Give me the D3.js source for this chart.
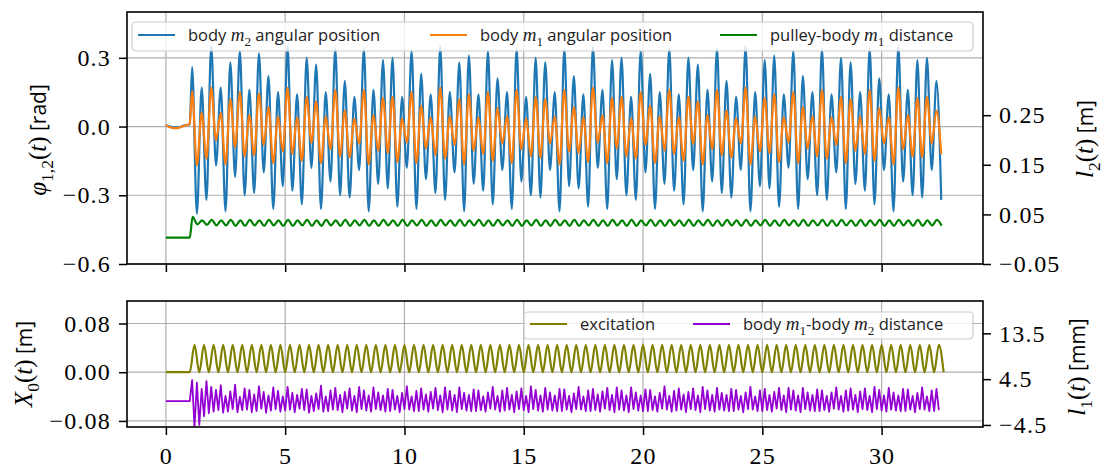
<!DOCTYPE html>
<html>
<head>
<meta charset="utf-8">
<script src="https://cdn.jsdelivr.net/npm/d3@7"></script>
<style>
  body { margin: 0; background: #fff; }
  .tick text { font-family: "Liberation Serif", serif; font-size: 24px; letter-spacing: 1.2px; fill: #000; }
  .tick line { stroke: #000; stroke-width: 1.5; }
  .grid line { stroke: #b0b0b0; stroke-width: 1.2; }
</style>
</head>
<body>
<svg id="chart" width="1106" height="471"></svg>
<script>
// ---- data ----
// rest phase before the excitation starts
const REST_T = [0, 0.25, 0.5, 0.75, 1.0];
const phi2Rest = [0.005, -0.002, -0.004, 0.004, 0.01];
const phi1Rest = [0.006, -0.006, -0.007, 0.003, 0.012];
const l2Rest = [0.003, 0.003, 0.003, 0.003, 0.003];
const x0Rest = [0, 0, 0, 0, 0];
const l1Rest = [0.2, 0.2, 0.2, 0.2, 0.2];

// oscillation phase, sampled every half period (extrema)
const HALF = 0.2;          // s
const PHI_START = 1.1;     // first peak of the angles
const L2_START = 1.12;
const X0_START = 1.0;
const L1_START = 1.0;      // l1 sampled every quarter period

const phi2Peaks = [
  0.26, 0.17, 0.35, 0.17, 0.28, 0.33, 0.16, 0.32, 0.22, 0.15,
  0.35, 0.14, 0.30, 0.27, 0.15, 0.34, 0.20, 0.13, 0.34, 0.16,
  0.29, 0.30, 0.13, 0.33, 0.23, 0.14, 0.35, 0.15, 0.28, 0.31,
  0.14, 0.33, 0.21, 0.15, 0.34, 0.13, 0.30, 0.28, 0.15, 0.34,
  0.22, 0.14, 0.35, 0.16, 0.29, 0.30, 0.13, 0.33, 0.23, 0.15,
  0.34, 0.14, 0.30, 0.27, 0.16, 0.34, 0.20, 0.13, 0.35, 0.15,
  0.29, 0.31, 0.14, 0.33, 0.22, 0.15, 0.34, 0.14, 0.30, 0.28,
  0.15, 0.34, 0.21, 0.14, 0.35, 0.16, 0.29, 0.30, 0.20];
const phi2Troughs = [
  -0.38, -0.32, -0.17, -0.37, -0.22, -0.30, -0.29, -0.20, -0.36, -0.26,
  -0.28, -0.34, -0.18, -0.36, -0.24, -0.30, -0.31, -0.19, -0.37, -0.25,
  -0.27, -0.35, -0.18, -0.36, -0.23, -0.29, -0.32, -0.20, -0.37, -0.25,
  -0.28, -0.34, -0.19, -0.36, -0.24, -0.30, -0.31, -0.19, -0.37, -0.26,
  -0.27, -0.35, -0.18, -0.36, -0.23, -0.30, -0.32, -0.20, -0.36, -0.25,
  -0.28, -0.34, -0.19, -0.37, -0.24, -0.29, -0.31, -0.19, -0.37, -0.26,
  -0.27, -0.35, -0.18, -0.36, -0.23, -0.30, -0.32, -0.20, -0.36, -0.25,
  -0.28, -0.34, -0.19, -0.37, -0.24, -0.30, -0.31, -0.19, -0.32];

const phi1Peaks = [
  0.155, 0.06, 0.17, 0.06, 0.12, 0.15, 0.05, 0.145, 0.085, 0.045,
  0.17, 0.04, 0.13, 0.11, 0.045, 0.16, 0.07, 0.035, 0.16, 0.05,
  0.125, 0.13, 0.035, 0.15, 0.09, 0.04, 0.17, 0.045, 0.12, 0.14,
  0.04, 0.15, 0.08, 0.045, 0.16, 0.035, 0.13, 0.12, 0.045, 0.16,
  0.085, 0.04, 0.17, 0.05, 0.125, 0.13, 0.035, 0.15, 0.09, 0.045,
  0.16, 0.04, 0.13, 0.11, 0.05, 0.16, 0.07, 0.035, 0.17, 0.045,
  0.125, 0.14, 0.04, 0.15, 0.085, 0.045, 0.16, 0.04, 0.13, 0.12,
  0.045, 0.16, 0.08, 0.04, 0.17, 0.05, 0.125, 0.13, 0.07];
const phi1Troughs = [
  -0.17, -0.14, -0.06, -0.165, -0.09, -0.13, -0.125, -0.08, -0.16, -0.11,
  -0.12, -0.15, -0.07, -0.16, -0.10, -0.13, -0.135, -0.075, -0.165, -0.105,
  -0.115, -0.155, -0.07, -0.16, -0.095, -0.125, -0.14, -0.08, -0.165, -0.105,
  -0.12, -0.15, -0.075, -0.16, -0.10, -0.13, -0.135, -0.075, -0.165, -0.11,
  -0.115, -0.155, -0.07, -0.16, -0.095, -0.13, -0.14, -0.08, -0.16, -0.105,
  -0.12, -0.15, -0.075, -0.165, -0.10, -0.125, -0.135, -0.075, -0.165, -0.11,
  -0.115, -0.155, -0.07, -0.16, -0.095, -0.13, -0.14, -0.08, -0.16, -0.105,
  -0.12, -0.15, -0.075, -0.165, -0.10, -0.13, -0.135, -0.075, -0.12];

const l2Values = [
  0.045, 0.030, 0.038, 0.029, 0.039, 0.028, 0.038, 0.028, 0.039, 0.027,
  0.038, 0.027, 0.039, 0.028, 0.038, 0.027, 0.039, 0.028, 0.038, 0.027,
  0.039, 0.027, 0.038, 0.028, 0.039, 0.027, 0.038, 0.027, 0.039, 0.028,
  0.038, 0.027, 0.039, 0.027, 0.038, 0.028, 0.039, 0.027, 0.038, 0.027,
  0.039, 0.028, 0.038, 0.027, 0.039, 0.027, 0.038, 0.028, 0.039, 0.027,
  0.038, 0.027, 0.039, 0.028, 0.038, 0.027, 0.039, 0.027, 0.038, 0.028,
  0.039, 0.027, 0.038, 0.027, 0.039, 0.028, 0.038, 0.027, 0.039, 0.027,
  0.038, 0.028, 0.039, 0.027, 0.038, 0.027, 0.039, 0.028, 0.038, 0.027,
  0.039, 0.027, 0.038, 0.028, 0.039, 0.027, 0.038, 0.027, 0.039, 0.028,
  0.038, 0.027, 0.039, 0.027, 0.038, 0.028, 0.039, 0.027, 0.038, 0.027,
  0.039, 0.028, 0.038, 0.027, 0.039, 0.027, 0.038, 0.028, 0.039, 0.027,
  0.038, 0.027, 0.039, 0.028, 0.038, 0.027, 0.039, 0.027, 0.038, 0.028,
  0.039, 0.027, 0.038, 0.027, 0.039, 0.028, 0.038, 0.027, 0.039, 0.027,
  0.038, 0.028, 0.039, 0.027, 0.038, 0.027, 0.039, 0.028, 0.038, 0.027,
  0.039, 0.027, 0.038, 0.028, 0.039, 0.027, 0.038, 0.027, 0.039, 0.028,
  0.038, 0.027, 0.039, 0.027, 0.038, 0.028, 0.039, 0.027];

const x0Values = [
  0, 0.045, 0, 0.045, 0, 0.045, 0, 0.045, 0, 0.045, 0, 0.045, 0, 0.045, 0, 0.045,
  0, 0.045, 0, 0.045, 0, 0.045, 0, 0.045, 0, 0.045, 0, 0.045, 0, 0.045, 0, 0.045,
  0, 0.045, 0, 0.045, 0, 0.045, 0, 0.045, 0, 0.045, 0, 0.045, 0, 0.045, 0, 0.045,
  0, 0.045, 0, 0.045, 0, 0.045, 0, 0.045, 0, 0.045, 0, 0.045, 0, 0.045, 0, 0.045,
  0, 0.045, 0, 0.045, 0, 0.045, 0, 0.045, 0, 0.045, 0, 0.045, 0, 0.045, 0, 0.045,
  0, 0.045, 0, 0.045, 0, 0.045, 0, 0.045, 0, 0.045, 0, 0.045, 0, 0.045, 0, 0.045,
  0, 0.045, 0, 0.045, 0, 0.045, 0, 0.045, 0, 0.045, 0, 0.045, 0, 0.045, 0, 0.045,
  0, 0.045, 0, 0.045, 0, 0.045, 0, 0.045, 0, 0.045, 0, 0.045, 0, 0.045, 0, 0.045,
  0, 0.045, 0, 0.045, 0, 0.045, 0, 0.045, 0, 0.045, 0, 0.045, 0, 0.045, 0, 0.045,
  0, 0.045, 0, 0.045, 0, 0.045, 0, 0.045, 0, 0.045, 0, 0.045, 0, 0.045, 0];

const l1Values = [
  0.2, 4.3, -4.9, 3.8,  -4.5, 2.6, -2.8, 4.1,  -2.2, 3.0, -1.9, 2.4,  -1.6, 3.3, -2.1, 1.2,
  -1.9, 2.1, -1.4, 3.4,  -2.0, 1.0, -1.6, 2.7,  -1.5, 2.4, -2.0, 1.5,  -1.8, 3.1, -1.3, 2.0,
  -2.1, 1.3, -1.7, 2.9,  -1.4, 2.2, -1.9, 1.1,  -1.7, 3.0, -1.5, 1.8,  -2.0, 1.4, -1.3, 2.6,
  -1.6, 2.5, -2.1, 1.2,  -1.8, 1.7, -1.4, 3.2,  -1.9, 1.1, -1.8, 2.3,  -1.5, 2.8, -1.6, 1.4,
  -2.0, 2.0, -1.3, 2.7,  -1.7, 1.2, -2.0, 3.0,  -1.4, 2.3, -1.7, 1.3,  -1.9, 2.9, -1.4, 1.9,
  -1.6, 1.3, -1.9, 2.6,  -1.8, 2.4, -1.5, 1.2,  -2.0, 1.8, -1.4, 3.1,  -1.5, 1.1, -1.8, 2.2,
  -1.8, 2.7, -1.5, 1.5,  -1.9, 2.0, -1.3, 2.8,  -1.6, 1.3, -2.0, 2.9,  -1.5, 2.2, -1.7, 1.4,
  -2.0, 2.9, -1.4, 1.8,  -1.7, 1.4, -1.8, 2.5,  -1.8, 2.3, -1.6, 1.1,  -1.9, 1.9, -1.3, 3.0,
  -1.5, 1.2, -1.9, 2.3,  -1.7, 2.8, -1.5, 1.4,  -2.0, 2.1, -1.4, 2.7,  -1.6, 1.2, -2.0, 3.1,
  -1.4, 2.4, -1.7, 1.3,  -1.9, 2.8, -1.5, 1.9,  -1.7, 1.3, -1.8, 2.6,  -1.8, 2.5, -1.5, 1.2,
  -2.0, 1.7, -1.4, 3.0,  -1.5, 1.1, -1.8, 2.3,  -1.8, 2.6, -1.6, 1.5,  -1.9, 2.1, -1.3, 2.8,
  -1.6, 1.4, -2.0, 2.9,  -1.5, 2.3, -1.7, 1.3,  -2.0, 2.9, -1.4, 1.9,  -1.7, 1.3, -1.8, 2.5,
  -1.8, 2.4, -1.6, 1.1,  -1.9, 1.8, -1.3, 3.1,  -1.5, 1.2, -1.9, 2.2,  -1.7, 2.7, -1.5, 1.5,
  -2.0, 2.0, -1.4, 2.7,  -1.6, 1.3, -2.0, 3.0,  -1.4, 2.3, -1.7, 1.4,  -1.9, 2.8, -1.5, 1.8,
  -1.7, 1.4, -1.8, 2.6,  -1.8, 2.4, -1.5, 1.2,  -2.0, 1.9, -1.4, 3.0,  -1.5, 1.1, -1.8, 2.3,
  -1.8, 2.6, -1.6, 1.4,  -1.9, 2.0, -1.3, 2.8,  -1.6, 1.3, -2.0, 2.8,  -1.5, 2.3, -1.7, 1.3,
  -2.0, 2.8, -1.4, 1.9,  -1.7, 1.4, -1.8, 2.5,  -1.8, 2.3, -1.6, 1.2,  -1.9, 1.9, -1.3, 2.9,
  -1.5, 1.2, -1.9, 2.3,  -1.7, 2.7, -1.5, 1.4,  -2.0, 2.1, -1.4, 2.7,  -1.6, 1.2, -2.0, 3.0,
  -1.4, 2.4, -1.7, 1.3,  -1.9, 2.8, -1.5, 1.9,  -1.7, 1.3, -1.8, 2.6,  -1.8, 2.5, -1.5, 1.2,
  -2.0, 1.8, -1.4, 2.9,  -1.5, 1.1, -1.8, 2.3,  -1.8, 2.6, -1.6];

// axis ticks
const T_TICKS = [0, 5, 10, 15, 20, 25, 30];
const PHI_TICKS = [-0.6, -0.3, 0.0, 0.3];
const L2_TICKS = [-0.05, 0.05, 0.15, 0.25];
const X0_TICKS = [-0.08, 0.0, 0.08];
const L1_TICKS = [-4.5, 4.5, 13.5];

// ---- layout ----
const LEFT = 127, RIGHT = 983;
const TOP = {y0: 12, y1: 264};
const BOT = {y0: 301, y1: 427};

const svg = d3.select("#chart");

const x = d3.scaleLinear().domain([-1.63, 34.25]).range([LEFT, RIGHT]);
const yPhi = d3.scaleLinear().domain([-0.6, 0.5]).range([TOP.y1, TOP.y0]);
const yL2 = d3.scaleLinear().domain([-0.05, 0.458]).range([TOP.y1, TOP.y0]);
const yX0 = d3.scaleLinear().domain([-0.09, 0.117]).range([BOT.y1, BOT.y0]);
const yL1 = d3.scaleLinear().domain([-4.9, 19.85]).range([BOT.y1, BOT.y0]);

function interleave(a, b) {
  const out = [];
  a.forEach((v, i) => { out.push(v); if (i < b.length) out.push(b[i]); });
  return out;
}
// rest samples + evenly sampled oscillation samples
function series(restV, t0, dt, vals) {
  const pts = REST_T.map((t, i) => [t, restV[i]]);
  vals.forEach((v, i) => pts.push([t0 + i * dt, v]));
  return pts;
}

const phi2 = series(phi2Rest, PHI_START, HALF, interleave(phi2Peaks, phi2Troughs));
const phi1 = series(phi1Rest, PHI_START, HALF, interleave(phi1Peaks, phi1Troughs));
const l2 = series(l2Rest, L2_START, HALF, l2Values);
const x0 = series(x0Rest, X0_START, HALF, x0Values);
const l1 = series(l1Rest, L1_START, HALF / 2, l1Values);

// clip paths
const defs = svg.append("defs");
[["clipTop", TOP], ["clipBot", BOT]].forEach(([id, p]) => {
  defs.append("clipPath").attr("id", id).append("rect")
    .attr("x", LEFT).attr("y", p.y0).attr("width", RIGHT - LEFT).attr("height", p.y1 - p.y0);
});

function panel(p, yLeft, yRight, leftTicks, rightTicks, leftFmt, rightFmt, showX) {
  // grid
  const grid = svg.append("g").attr("class", "grid");
  grid.selectAll(".gx").data(T_TICKS).enter().append("line")
    .attr("x1", d => x(d)).attr("x2", d => x(d)).attr("y1", p.y0).attr("y2", p.y1);
  grid.selectAll(".gy").data(leftTicks).enter().append("line")
    .attr("x1", LEFT).attr("x2", RIGHT).attr("y1", d => yLeft(d)).attr("y2", d => yLeft(d));

  const ax = svg.append("g").attr("transform", `translate(0,${p.y1})`)
    .call(d3.axisBottom(x).tickValues(T_TICKS).tickSize(8).tickPadding(12)
      .tickFormat(showX ? d3.format("d") : ""));
  const al = svg.append("g").attr("transform", `translate(${LEFT},0)`)
    .call(d3.axisLeft(yLeft).tickValues(leftTicks).tickSize(8).tickPadding(8).tickFormat(d3.format(leftFmt)));
  const ar = svg.append("g").attr("transform", `translate(${RIGHT},0)`)
    .call(d3.axisRight(yRight).tickValues(rightTicks).tickSize(8).tickPadding(8).tickFormat(d3.format(rightFmt)));
  [ax, al, ar].forEach(a => a.select(".domain").remove());
}

function frame(p) {
  svg.append("rect").attr("x", LEFT).attr("y", p.y0)
    .attr("width", RIGHT - LEFT).attr("height", p.y1 - p.y0)
    .attr("fill", "none").attr("stroke", "#000").attr("stroke-width", 1.6);
}

function drawLine(data, yScale, color, clip, curve, width) {
  svg.append("path").datum(data)
    .attr("clip-path", `url(#${clip})`)
    .attr("fill", "none").attr("stroke", color).attr("stroke-width", width)
    .attr("stroke-linejoin", "round")
    .attr("d", d3.line().x(d => x(d[0])).y(d => yScale(d[1])).curve(curve));
}

panel(TOP, yPhi, yL2, PHI_TICKS, L2_TICKS, ".1f", ".2f", false);
drawLine(phi2, yPhi, "#1f77b4", "clipTop", d3.curveMonotoneX, 2.2);
drawLine(phi1, yPhi, "#ff7f0e", "clipTop", d3.curveMonotoneX, 2.2);
drawLine(l2, yL2, "#008000", "clipTop", d3.curveMonotoneX, 2.2);
frame(TOP);

panel(BOT, yX0, yL1, X0_TICKS, L1_TICKS, ".2f", ".1f", true);
drawLine(x0, yX0, "#808000", "clipBot", d3.curveMonotoneX, 2.2);
drawLine(l1, yL1, "#9400d3", "clipBot", d3.curveLinear, 1.8);
frame(BOT);

// ---- rich text helpers ----
const SERIF = "Liberation Serif", SANS = "Open Sans";
function rich(textSel, parts, sansSize, serifSize) {
  let shift = 0;
  parts.forEach(p => {
    const sub = p.sub === true;
    const ts = textSel.append("tspan").text(p.s);
    const want = sub ? serifSize * 0.27 : 0;
    if (want !== shift) { ts.attr("dy", want - shift); shift = want; }
    ts.attr("font-family", p.f === "sans" ? SANS : SERIF)
      .attr("font-style", p.f === "it" ? "italic" : "normal")
      .attr("font-size", sub ? serifSize * 0.7 : (p.f === "sans" ? sansSize : serifSize));
  });
}

function axisLabel(xPos, yPos, parts) {
  const t = svg.append("text").attr("transform", `translate(${xPos},${yPos}) rotate(-90)`)
    .attr("text-anchor", "middle").attr("fill", "#000");
  rich(t, parts, 21, 25);
}

axisLabel(46, 140, [{s: "φ", f: "it"}, {s: "1,2", f: "rm", sub: true}, {s: "(", f: "rm"}, {s: "t", f: "it"},
  {s: ")", f: "rm"}, {s: " [rad]", f: "sans"}]);
axisLabel(1093, 139, [{s: "l", f: "it"}, {s: "2", f: "rm", sub: true}, {s: "(", f: "rm"}, {s: "t", f: "it"},
  {s: ")", f: "rm"}, {s: " [m]", f: "sans"}]);
axisLabel(32, 364, [{s: "X", f: "it"}, {s: "0", f: "rm", sub: true}, {s: "(", f: "rm"}, {s: "t", f: "it"},
  {s: ")", f: "rm"}, {s: " [m]", f: "sans"}]);
axisLabel(1085, 367, [{s: "l", f: "it"}, {s: "1", f: "rm", sub: true}, {s: "(", f: "rm"}, {s: "t", f: "it"},
  {s: ")", f: "rm"}, {s: " [mm]", f: "sans"}]);

// ---- legends ----
function legend(box, entries) {
  svg.append("rect").attr("x", box.x).attr("y", box.y).attr("width", box.w).attr("height", box.h)
    .attr("rx", 4).attr("fill", "#fff").attr("fill-opacity", 0.8)
    .attr("stroke", "#cccccc").attr("stroke-width", 1.2);
  entries.forEach(e => {
    svg.append("line").attr("x1", e.x).attr("x2", e.x + 37).attr("y1", box.ly).attr("y2", box.ly)
      .attr("stroke", e.color).attr("stroke-width", 2.2);
    const t = svg.append("text").attr("x", e.x + 50).attr("y", box.ty).attr("fill", "#222");
    rich(t, e.parts, 16.5, 19);
  });
}

legend({x: 132, y: 22, w: 841, h: 29, ly: 35, ty: 41}, [
  {x: 138, color: "#1f77b4", parts: [{s: "body ", f: "sans"}, {s: "m", f: "it"}, {s: "2", f: "rm", sub: true}, {s: " angular position", f: "sans"}]},
  {x: 430, color: "#ff7f0e", parts: [{s: "body ", f: "sans"}, {s: "m", f: "it"}, {s: "1", f: "rm", sub: true}, {s: " angular position", f: "sans"}]},
  {x: 720, color: "#008000", parts: [{s: "pulley-body ", f: "sans"}, {s: "m", f: "it"}, {s: "1", f: "rm", sub: true}, {s: " distance", f: "sans"}]}
]);
legend({x: 524, y: 312, w: 449, h: 27, ly: 324, ty: 330}, [
  {x: 530, color: "#808000", parts: [{s: "excitation", f: "sans"}]},
  {x: 693, color: "#9400d3", parts: [{s: "body ", f: "sans"}, {s: "m", f: "it"}, {s: "1", f: "rm", sub: true}, {s: "-body ", f: "sans"}, {s: "m", f: "it"}, {s: "2", f: "rm", sub: true}, {s: " distance", f: "sans"}]}
]);
</script>
</body>
</html>
